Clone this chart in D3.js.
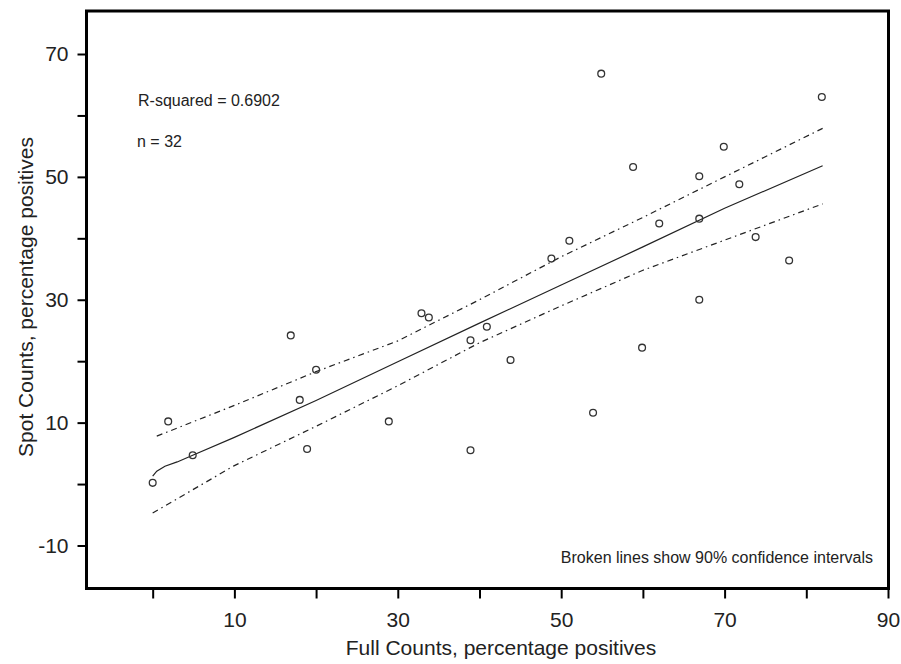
<!DOCTYPE html>
<html>
<head>
<meta charset="utf-8">
<script src="https://cdn.jsdelivr.net/npm/d3@7"></script>
<style>
    body { margin: 0; background: #fff; }
    svg text { font-family: "Liberation Sans", Arial, sans-serif; fill: #222; }
</style>
</head>
<body>
<div id="plot"></div>
<script>
// Observed points (Full Counts vs Spot Counts, % positives)
const fullCounts = [0, 1.9, 4.9, 16.9, 18.0, 18.9, 20.0, 28.9, 32.9, 33.8, 38.9, 38.9, 40.9, 43.8, 48.8,
    51.0, 53.9, 54.9, 58.8, 59.9, 62.0, 66.9, 66.9, 66.9, 69.9, 71.8, 73.8, 77.9, 81.9];
const spotCounts = [0.2, 10.2, 4.7, 24.2, 13.7, 5.7, 18.6, 10.2, 27.8, 27.1, 23.4, 5.5, 25.6, 20.2, 36.7,
    39.6, 11.6, 66.8, 51.6, 22.2, 42.4, 50.1, 43.2, 30.0, 54.9, 48.8, 40.2, 36.4, 63.0];

// Fitted line
const fitX = [0, 0.5, 1.5, 3, 4.9, 10, 20, 30, 40, 50, 60, 70, 82];
const fitY = [1.3, 2.1, 2.9, 3.6, 4.7, 7.6, 13.6, 19.9, 26.2, 32.4, 38.6, 44.9, 51.8];

// 90% confidence band
const upperX = [0.5, 10, 20, 30, 40, 50, 60, 70, 82];
const upperY = [7.8, 12.8, 18.3, 23.3, 30.0, 37.0, 43.4, 50.0, 57.9];
const lowerX = [0, 10, 20, 30, 40, 50, 60, 70, 82];
const lowerY = [-4.7, 3.0, 9.4, 16.0, 23.0, 29.0, 34.8, 39.7, 45.6];

// Axis ticks
const xTicks = [0, 10, 20, 30, 40, 50, 60, 70, 80, 90];
const xTickLabels = [10, 30, 50, 70, 90];
const yTicks = [-10, 0, 10, 20, 30, 40, 50, 60, 70];
const yTickLabels = [-10, 10, 30, 50, 70];

const width = 901, height = 664;
const frame = { left: 86.5, right: 888.5, top: 11, bottom: 588.5 };

const svg = d3.select('#plot').append('svg')
    .attr('width', width)
    .attr('height', height);

const xScale = d3.scaleLinear()
    .domain([-8.1, 90])
    .range([frame.left, 888]);

const yScale = d3.scaleLinear()
    .domain([-17, 77])
    .range([frame.bottom, frame.top]);

// Frame
svg.append('rect')
    .attr('x', frame.left)
    .attr('y', frame.top)
    .attr('width', frame.right - frame.left)
    .attr('height', frame.bottom - frame.top)
    .attr('fill', 'none')
    .attr('stroke', '#000')
    .attr('stroke-width', 3);

// X axis
const xAxis = d3.axisBottom(xScale)
    .tickValues(xTicks)
    .tickSize(10)
    .tickFormat(d => xTickLabels.includes(d) ? d : '');

const gx = svg.append('g')
    .attr('transform', `translate(0,${frame.bottom})`)
    .call(xAxis);
gx.select('.domain').remove();
gx.selectAll('line').attr('stroke', '#000').attr('stroke-width', 2);
gx.selectAll('text')
    .attr('y', 38)
    .attr('dy', 0)
    .style('font-size', '21px');

// Y axis
const yAxis = d3.axisLeft(yScale)
    .tickValues(yTicks)
    .tickSize(9)
    .tickFormat(d => yTickLabels.includes(d) ? d : '');

const gy = svg.append('g')
    .attr('transform', `translate(${frame.left},0)`)
    .call(yAxis);
gy.select('.domain').remove();
gy.selectAll('line').attr('stroke', '#000').attr('stroke-width', 2);
gy.selectAll('text')
    .attr('x', -18)
    .style('font-size', '21px');

// Axis titles
svg.append('text')
    .attr('x', 501)
    .attr('y', 655)
    .attr('text-anchor', 'middle')
    .style('font-size', '21px')
    .text('Full Counts, percentage positives');

svg.append('text')
    .attr('transform', 'translate(33,297) rotate(-90)')
    .attr('text-anchor', 'middle')
    .style('font-size', '21px')
    .text('Spot Counts, percentage positives');

// Lines
const line = d3.line()
    .x(d => xScale(d[0]))
    .y(d => yScale(d[1]));

svg.append('path')
    .datum(d3.zip(fitX, fitY))
    .attr('d', line)
    .attr('fill', 'none')
    .attr('stroke', '#222')
    .attr('stroke-width', 1.2);

[[upperX, upperY], [lowerX, lowerY]].forEach(([bx, by]) => {
    svg.append('path')
        .datum(d3.zip(bx, by))
        .attr('d', line)
        .attr('fill', 'none')
        .attr('stroke', '#222')
        .attr('stroke-width', 1.2)
        .attr('stroke-dasharray', '6,4,1.5,4');
});

// Points
svg.append('g')
    .selectAll('circle')
    .data(d3.zip(fullCounts, spotCounts))
    .enter()
    .append('circle')
    .attr('cx', d => xScale(d[0]))
    .attr('cy', d => yScale(d[1]))
    .attr('r', 3.4)
    .attr('fill', 'none')
    .attr('stroke', '#333')
    .attr('stroke-width', 1.3);

// Annotations
svg.append('text')
    .attr('x', 138)
    .attr('y', 106)
    .style('font-size', '16px')
    .text('R-squared = 0.6902');

svg.append('text')
    .attr('x', 137)
    .attr('y', 147)
    .style('font-size', '16px')
    .text('n = 32');

svg.append('text')
    .attr('x', 873)
    .attr('y', 563)
    .attr('text-anchor', 'end')
    .style('font-size', '16px')
    .text('Broken lines show 90% confidence intervals');
</script>
</body>
</html>
